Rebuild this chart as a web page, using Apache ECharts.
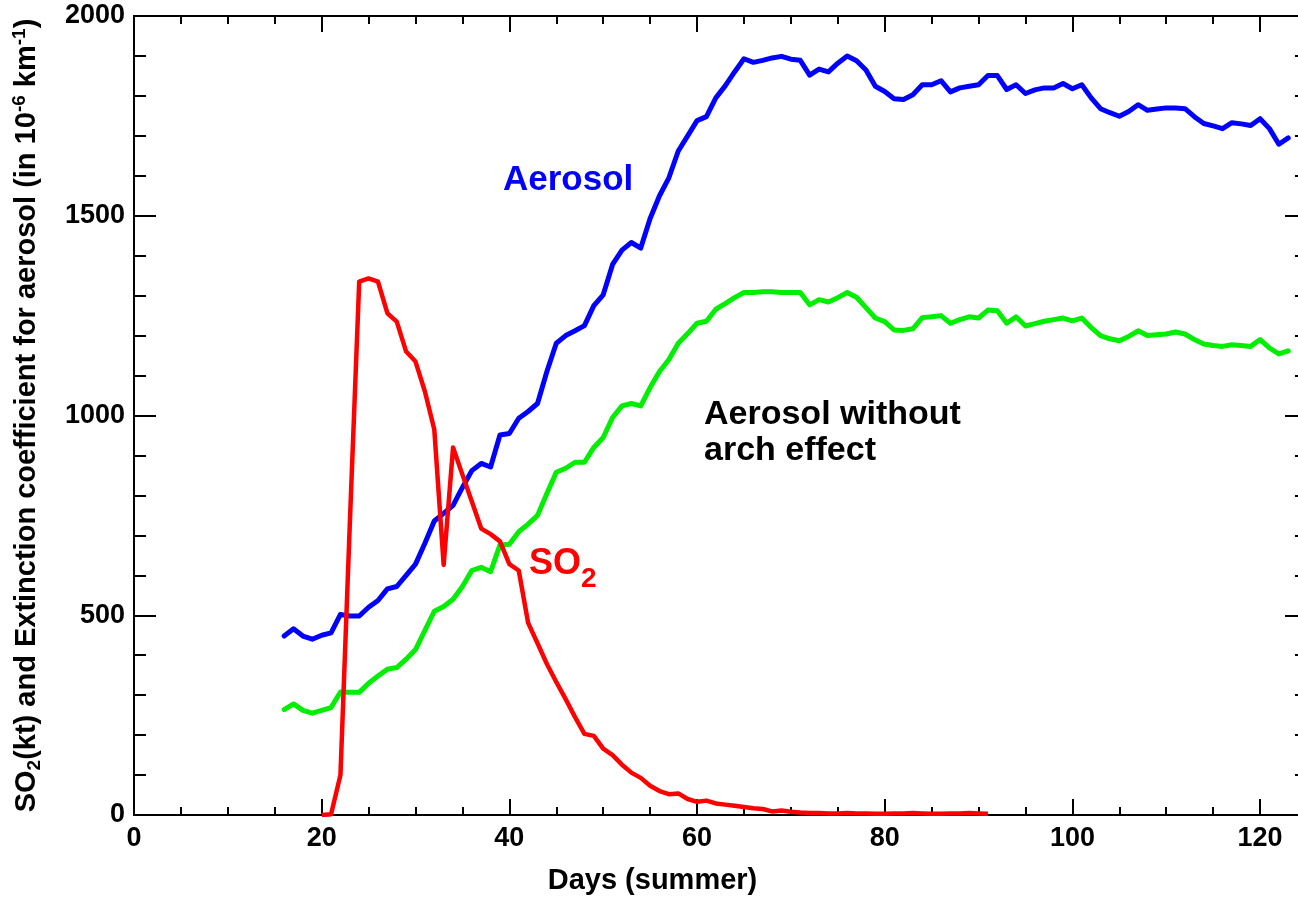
<!DOCTYPE html>
<html>
<head>
<meta charset="utf-8">
<title>SO2 and aerosol extinction</title>
<script src="https://cdn.jsdelivr.net/npm/echarts@6/dist/echarts.min.js"></script>
<style>
  html, body { margin: 0; padding: 0; background: #ffffff; overflow: hidden; }
  /* the frame's right edge sits just past the visible page */
  #chart { width: 1310px; height: 902px; }
</style>
</head>
<body>
<div id="chart"></div>
<script>
// Daily samples; aerosol series start on day 16, SO2 on day 20.
const aerosolStartDay = 16;
const so2StartDay = 20;

// Extinction coefficient for aerosol (10^-6 km^-1), days 16..123
const aerosol = [
  448, 466, 448, 440, 450, 456, 502, 498, 498, 520,
  537, 566, 572, 600, 628, 680, 736, 755, 775, 820,
  862, 880, 871, 951, 955, 993, 1010, 1030, 1110, 1181,
  1200, 1212, 1225, 1275, 1302, 1378, 1414, 1433, 1419, 1493,
  1550, 1595, 1662, 1700, 1738, 1748, 1795, 1825, 1860, 1893,
  1884, 1889, 1895, 1899, 1892, 1889, 1852, 1867, 1860, 1882,
  1900, 1888, 1865, 1824, 1811, 1793, 1791, 1803, 1828, 1828,
  1838, 1810, 1820, 1824, 1828, 1851, 1851, 1816, 1828, 1806,
  1815, 1820, 1820, 1831, 1818, 1828, 1795, 1768, 1758, 1749,
  1761, 1778, 1764, 1767, 1770, 1770, 1768, 1748, 1731, 1725,
  1718, 1733, 1730, 1726, 1743, 1718, 1679, 1695
];

// Aerosol without arch effect, days 16..123
const aerosolNoArch = [
  264, 278, 262, 255, 262, 269, 308, 307, 307, 330,
  348, 365, 369, 390, 414, 462, 510, 522, 540, 572,
  612, 620, 609, 676, 678, 709, 728, 750, 805, 858,
  868, 883, 883, 920, 945, 995, 1024, 1030, 1024, 1070,
  1110, 1140, 1181, 1205, 1231, 1236, 1266, 1280, 1295, 1308,
  1308, 1310, 1310, 1308, 1308, 1308, 1277, 1290, 1284, 1295,
  1308, 1296, 1270, 1244, 1235, 1214, 1213, 1217, 1245, 1247,
  1250, 1231, 1240, 1247, 1244, 1264, 1262, 1231, 1247, 1224,
  1230, 1236, 1240, 1244, 1237, 1244, 1220, 1200, 1192, 1187,
  1198, 1212, 1200, 1202, 1204, 1209, 1204, 1190, 1179, 1175,
  1173, 1177, 1175, 1173, 1190, 1169, 1154, 1162
];

// SO2 mass (kt), days 20..91
const so2 = [
  0, 2, 100, 730, 1335, 1343, 1335, 1256, 1235, 1160,
  1135, 1060, 965, 626, 920, 852, 785, 717, 703, 685,
  628, 612, 481, 430, 378, 333, 290, 245, 203, 198,
  166, 150, 126, 106, 93, 73, 60, 52, 54, 40,
  33, 36, 29, 26, 23, 20, 17, 15, 9, 11,
  8, 6, 5, 5, 4, 4, 5, 4, 4, 3,
  3, 4, 4, 5, 4, 3, 3, 4, 4, 5,
  4, 3
];

// Axis ticks
const xMajorTicks = [0, 20, 40, 60, 80, 100, 120];
const xMinorStep = 5;
const yMajorStep = 500;
const yMinorSplit = 5;

const FONT = '"Liberation Sans", Arial, Helvetica, sans-serif';

function toPairs(start, values) {
  return values.map((v, i) => [start + i, v]);
}

const black = '#000000';
const xMin = 0, xMax = 125, yMin = 0, yMax = 2000;

function xAxisBase(position, interval, tickLen, showLabels, extra) {
  return Object.assign({
    type: 'value',
    position: position,
    min: xMin,
    max: xMax,
    interval: interval,
    axisLine: { show: true, onZero: false, lineStyle: { color: black, width: 2 } },
    axisTick: { show: true, inside: true, length: tickLen, lineStyle: { color: black, width: 2 } },
    axisLabel: showLabels ? {
      margin: 10,
      color: black,
      fontSize: 27,
      fontWeight: 'bold',
      fontFamily: FONT,
      showMaxLabel: false,
      formatter: v => (xMajorTicks.indexOf(v) >= 0 ? String(v) : '')
    } : { show: false },
    splitLine: { show: false }
  }, extra || {});
}

function yAxisBase(position, showLabels, extra) {
  return Object.assign({
    type: 'value',
    position: position,
    min: yMin,
    max: yMax,
    interval: yMajorStep,
    axisLine: { show: true, onZero: false, lineStyle: { color: black, width: 2 } },
    axisTick: { show: true, inside: true, length: 22, lineStyle: { color: black, width: 2 } },
    minorTick: { show: true, splitNumber: yMinorSplit, length: 12, lineStyle: { color: black, width: 2 } },
    axisLabel: showLabels ? {
      margin: 9,
      color: black,
      fontSize: 27,
      fontWeight: 'bold',
      fontFamily: FONT,
      formatter: v => String(v)
    } : { show: false },
    splitLine: { show: false },
    minorSplitLine: { show: false }
  }, extra || {});
}

const nameRich = {
  t: { fontSize: 29, fontWeight: 'bold', fontFamily: FONT, color: black, lineHeight: 34 },
  sub: { fontSize: 19, fontWeight: 'bold', fontFamily: FONT, color: black, lineHeight: 19, verticalAlign: 'bottom' },
  sup: { fontSize: 19, fontWeight: 'bold', fontFamily: FONT, color: black, lineHeight: 19, verticalAlign: 'top' }
};

const chart = echarts.init(document.getElementById('chart'), null, { renderer: 'canvas' });

chart.setOption({
  animation: false,
  backgroundColor: '#ffffff',
  grid: { left: 134, right: 3, top: 16, bottom: 82, containLabel: false },
  xAxis: [
    xAxisBase('bottom', 20, 16, true, {
      name: 'Days (summer)',
      nameLocation: 'middle',
      nameGap: 50,
      nameTextStyle: {
        fontSize: 29, fontWeight: 'bold', fontFamily: FONT, color: black,
        lineHeight: 32, padding: [0, 136, 0, 0]
      }
    }),
    xAxisBase('bottom', xMinorStep, 8, false),
    xAxisBase('top', 20, 16, false),
    xAxisBase('top', xMinorStep, 8, false)
  ],
  yAxis: [
    yAxisBase('left', true, {
      name: '{t|SO}{sub|2}{t|(kt) and Extinction coefficient for aerosol (in 10}{sup|-6}{t| km}{sup|-1}{t|)}',
      nameLocation: 'middle',
      nameGap: 90,
      nameTextStyle: { rich: nameRich }
    }),
    yAxisBase('right', false)
  ],
  series: [
    {
      name: 'Aerosol',
      type: 'line',
      xAxisIndex: 0,
      yAxisIndex: 0,
      data: toPairs(aerosolStartDay, aerosol),
      showSymbol: false,
      symbol: 'none',
      lineStyle: { color: '#0000ff', width: 5, join: 'round', cap: 'round' },
      z: 3
    },
    {
      name: 'Aerosol without arch effect',
      type: 'line',
      xAxisIndex: 0,
      yAxisIndex: 0,
      data: toPairs(aerosolStartDay, aerosolNoArch),
      showSymbol: false,
      symbol: 'none',
      lineStyle: { color: '#00ee00', width: 5, join: 'round', cap: 'round' },
      z: 3
    },
    {
      name: 'SO2',
      type: 'line',
      xAxisIndex: 0,
      yAxisIndex: 0,
      data: toPairs(so2StartDay, so2),
      showSymbol: false,
      symbol: 'none',
      lineStyle: { color: '#ff0000', width: 4.5, join: 'round', cap: 'butt' },
      z: 4
    }
  ],
  graphic: [
    {
      type: 'text', left: 503, top: 163, z: 10,
      style: { text: 'Aerosol', fill: '#0000ff', font: 'bold 35px ' + FONT }
    },
    {
      type: 'text', left: 704, top: 397, z: 10,
      style: { text: 'Aerosol without\narch effect', fill: black, font: 'bold 34px ' + FONT, lineHeight: 36 }
    },
    {
      type: 'text', left: 529, top: 546, z: 10,
      style: { text: 'SO', fill: '#ff0000', font: 'bold 36px ' + FONT }
    },
    {
      type: 'text', left: 581, top: 565, z: 10,
      style: { text: '2', fill: '#ff0000', font: 'bold 28px ' + FONT }
    }
  ]
});
</script>
</body>
</html>
